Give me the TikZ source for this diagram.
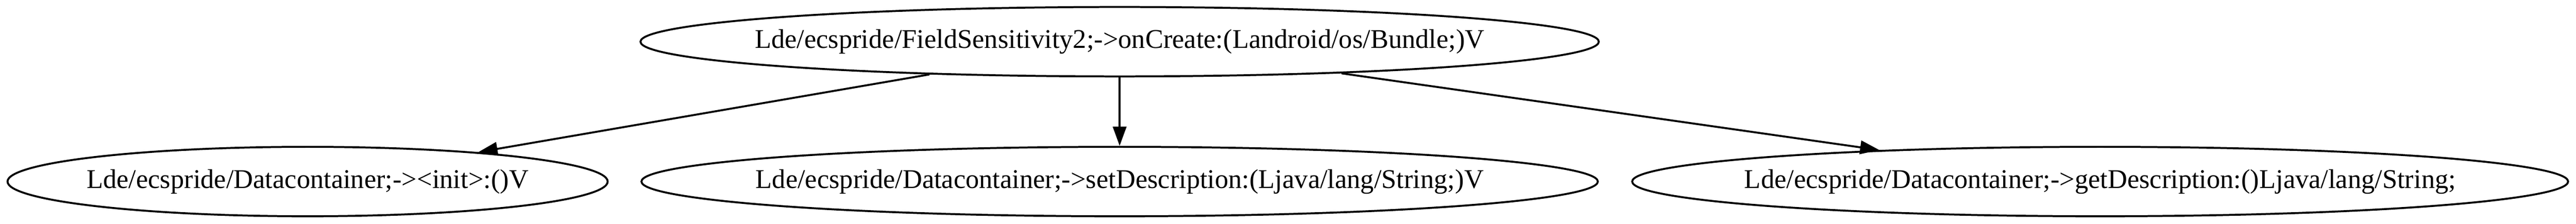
\documentclass[tikz,border=0pt]{standalone}
\usepackage{fontspec}
\setmainfont{Liberation Serif}
\usetikzlibrary{shapes.geometric,arrows.meta}
\begin{document}
\begin{tikzpicture}[x=1pt,y=1pt,
  method/.style={draw,ellipse,line width=1pt,inner sep=0pt,minimum height=36pt},
  txt/.style={label={[font=\fontsize{14pt}{16pt}\selectfont,inner sep=0pt]center:#1}},
  call/.style={line width=1pt,-{Triangle[length=10pt,width=7pt]}}]
\useasboundingbox (0,0) rectangle (1334.9,115.92);
\node[method,minimum width=496.6pt,txt={Lde/ecspride/FieldSensitivity2;->onCreate:(Landroid/os/Bundle;)V}] (oncreate) at (580.2,94.3) {};
\node[method,minimum width=311pt,txt={Lde/ecspride/Datacontainer;-><init>:()V}] (init) at (159.4,21.8) {};
\node[method,minimum width=495.6pt,txt={Lde/ecspride/Datacontainer;->setDescription:(Ljava/lang/String;)V}] (setd) at (580.2,21.8) {};
\node[method,minimum width=485pt,txt={Lde/ecspride/Datacontainer;->getDescription:()Ljava/lang/String;}] (getd) at (1088.3,21.8) {};
\draw[call] (oncreate) -- (init);
\draw[call] (oncreate) -- (setd);
\draw[call] (oncreate) -- (getd);
\end{tikzpicture}
\end{document}
